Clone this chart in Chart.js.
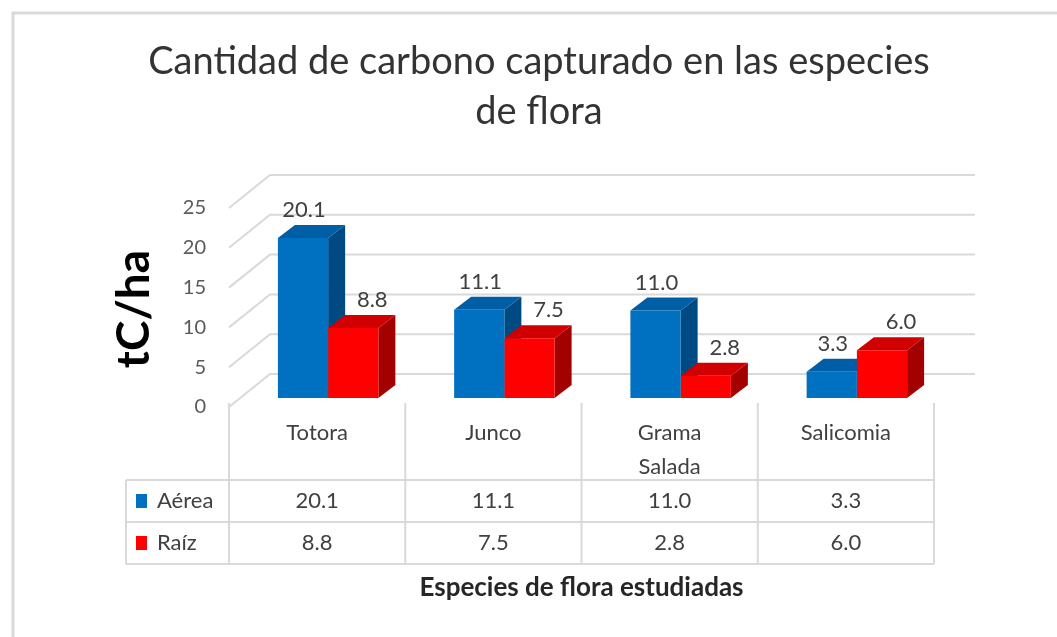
<!DOCTYPE html>
<html>
<head>
<meta charset="utf-8">
<script src="https://cdn.jsdelivr.net/npm/chart.js@4"></script>
<style>
  html, body { margin: 0; padding: 0; background: #fff; }
  #wrap { position: relative; width: 1057px; height: 637px; }
</style>
</head>
<body>
<div id="wrap"><canvas id="chart" width="1057" height="637"></canvas></div>
<script>
const categories = [["Totora"], ["Junco"], ["Grama", "Salada"], ["Salicomia"]];
const seriesNames = ["Aérea", "Raíz"];
const aerea = [20.1, 11.1, 11.0, 3.3];
const raiz = [8.8, 7.5, 2.8, 6.0];
const yTicks = [0, 5, 10, 15, 20, 25];

const titleLines = ["Cantidad de carbono capturado en las especies", "de flora"];
const yTitle = "tC/ha";
const xTitle = "Especies de flora estudiadas";

// colores: frente, tapa, lado
const blueFaces = ["#0070c0", "#005ea6", "#004a84"];
const redFaces = ["#ff0000", "#d00000", "#a30000"];

// desplazamientos de la vista 3D (en px)
const FRONT = { dx: -11, dy: 9 };
const BACK = { dx: 30, dy: -24 };
const DEPTH = { dx: 17, dy: -13 };

const FONT = "Lato, 'Open Sans', sans-serif";
const GRID = "#d9d9d9";

const fmt = (v) => v.toFixed(1);

function poly(ctx, pts, color) {
  ctx.beginPath();
  ctx.moveTo(pts[0][0], pts[0][1]);
  for (let i = 1; i < pts.length; i++) ctx.lineTo(pts[i][0], pts[i][1]);
  ctx.closePath();
  ctx.fillStyle = color;
  ctx.fill();
}

const bars3d = {
  id: "bars3d",
  beforeDatasetsDraw(chart) {
    const ctx = chart.ctx;
    const area = chart.chartArea;
    const y = chart.scales.y;
    ctx.save();

    // paredes: rejilla del fondo y diagonales laterales
    ctx.strokeStyle = GRID;
    ctx.lineWidth = 2;
    yTicks.forEach((v) => {
      const yp = y.getPixelForValue(v);
      ctx.beginPath();
      ctx.moveTo(area.left + FRONT.dx, yp + FRONT.dy);
      ctx.lineTo(area.left + BACK.dx, yp + BACK.dy);
      ctx.lineTo(area.right + BACK.dx, yp + BACK.dy);
      ctx.stroke();
    });

    // etiquetas del eje y
    ctx.fillStyle = "#595959";
    ctx.font = "20px " + FONT;
    ctx.textAlign = "right";
    ctx.textBaseline = "middle";
    yTicks.forEach((v) => {
      const yp = y.getPixelForValue(v);
      ctx.fillText(String(v), area.left + FRONT.dx - 23, yp + FRONT.dy);
    });

    // tapas y lados de las barras
    const faces = [blueFaces, redFaces];
    const metas = chart.data.datasets.map((d, i) => chart.getDatasetMeta(i));
    for (let i = 0; i < categories.length; i++) {
      metas.forEach((meta, d) => {
        const el = meta.data[i];
        const l = el.x - el.width / 2;
        const r = el.x + el.width / 2;
        const t = el.y;
        const b = el.base;
        poly(ctx, [[r, t], [r + DEPTH.dx, t + DEPTH.dy], [r + DEPTH.dx, b + DEPTH.dy], [r, b]], faces[d][2]);
        poly(ctx, [[l, t], [r, t], [r + DEPTH.dx, t + DEPTH.dy], [l + DEPTH.dx, t + DEPTH.dy]], faces[d][1]);
      });
    }
    ctx.restore();
  },
  afterDatasetsDraw(chart) {
    const ctx = chart.ctx;
    ctx.save();
    ctx.fillStyle = "#404040";
    ctx.font = "22px " + FONT;
    ctx.textAlign = "center";
    ctx.textBaseline = "middle";
    const shift = [1, 19];
    chart.data.datasets.forEach((ds, d) => {
      chart.getDatasetMeta(d).data.forEach((el, i) => {
        ctx.fillText(fmt(ds.data[i]), el.x + shift[d], el.y - 28);
      });
    });
    ctx.restore();
  },
  afterDraw(chart) {
    const ctx = chart.ctx;
    const area = chart.chartArea;
    const x = chart.scales.x;
    ctx.save();

    // borde del gráfico
    ctx.strokeStyle = "#d9d9d9";
    ctx.lineWidth = 3;
    ctx.beginPath();
    ctx.moveTo(13, 637);
    ctx.lineTo(13, 13);
    ctx.lineTo(1057, 13);
    ctx.stroke();

    // título
    ctx.fillStyle = "#333333";
    ctx.font = "38px " + FONT;
    ctx.textAlign = "center";
    ctx.textBaseline = "middle";
    ctx.fillText(titleLines[0], 539, 62);
    ctx.fillText(titleLines[1], 539, 112);

    // título eje y
    ctx.save();
    ctx.translate(134, 309);
    ctx.rotate(-Math.PI / 2);
    ctx.fillStyle = "#000";
    ctx.font = "bold 46px " + FONT;
    ctx.fillText(yTitle, 0, 0);
    ctx.restore();

    // tabla de datos
    const catW = (area.right - area.left) / categories.length;
    const x0 = area.left + FRONT.dx;
    const tableLeft = 126;
    const rowLines = [480, 522, 564];
    const topY = 403;
    ctx.strokeStyle = GRID;
    ctx.lineWidth = 2;
    ctx.beginPath();
    for (let k = 0; k <= categories.length; k++) {
      const xp = x0 + k * catW;
      ctx.moveTo(xp, topY);
      ctx.lineTo(xp, rowLines[2]);
    }
    rowLines.forEach((ry) => {
      ctx.moveTo(tableLeft, ry);
      ctx.lineTo(x0 + categories.length * catW, ry);
    });
    ctx.moveTo(tableLeft, rowLines[0]);
    ctx.lineTo(tableLeft, rowLines[2]);
    ctx.stroke();

    ctx.fillStyle = "#404040";
    ctx.font = "22px " + FONT;
    ctx.textAlign = "center";
    categories.forEach((lines, i) => {
      const cx = x.getPixelForValue(i) + FRONT.dx;
      lines.forEach((t, j) => ctx.fillText(t, cx, 433 + j * 34));
      ctx.fillText(fmt(aerea[i]), cx, 501);
      ctx.fillText(fmt(raiz[i]), cx, 543);
    });

    // leyenda en la tabla
    const keyColors = [blueFaces[0], redFaces[0]];
    const rowMid = [501, 543];
    seriesNames.forEach((name, d) => {
      ctx.fillStyle = keyColors[d];
      ctx.fillRect(136, rowMid[d] - 7, 11, 14);
      ctx.fillStyle = "#404040";
      ctx.textAlign = "left";
      ctx.fillText(name, 157, rowMid[d]);
    });

    // título eje x
    ctx.fillStyle = "#262626";
    ctx.font = "bold 26px " + FONT;
    ctx.textAlign = "center";
    ctx.fillText(xTitle, (x0 + x0 + categories.length * catW) / 2, 588);
    ctx.restore();
  }
};

new Chart(document.getElementById("chart"), {
  type: "bar",
  data: {
    labels: categories.map((c) => c.join(" ")),
    datasets: [
      {
        label: seriesNames[0],
        data: aerea,
        backgroundColor: blueFaces[0],
        borderWidth: 0,
        barPercentage: 1,
        categoryPercentage: 0.57,
      },
      {
        label: seriesNames[1],
        data: raiz,
        backgroundColor: redFaces[0],
        borderWidth: 0,
        barPercentage: 1,
        categoryPercentage: 0.57,
      },
    ],
  },
  options: {
    responsive: false,
    animation: false,
    layout: { padding: { left: 240, right: 112, top: 199, bottom: 239 } },
    scales: {
      x: { display: false },
      y: { display: false, min: 0, max: 25 },
    },
    plugins: {
      legend: { display: false },
      tooltip: { enabled: false },
    },
  },
  plugins: [bars3d],
});
</script>
</body>
</html>
